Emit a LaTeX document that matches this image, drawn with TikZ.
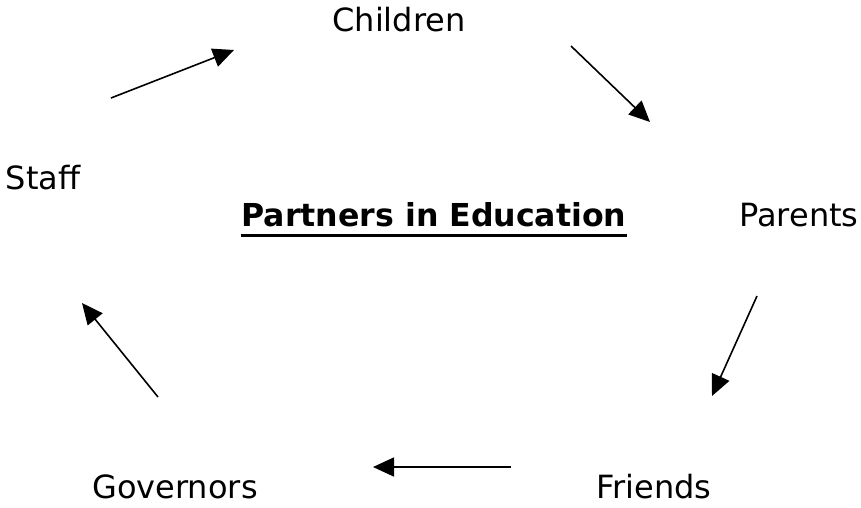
\documentclass[tikz,border=0pt]{standalone}
\usepackage{fontspec}
\setmainfont{DejaVu Sans}
\usetikzlibrary{arrows.meta}
\begin{document}
\begin{tikzpicture}[x=1pt,y=-1pt,
  lbl/.style={font=\fontsize{32}{38}\selectfont, inner sep=0pt, anchor=base},
  arr/.style={line width=1.6pt, -{Triangle[length=21pt,width=19pt]}}]
\useasboundingbox (0,0) rectangle (861,507);
\node[lbl] (children) at (399,31) {Children};
\node[lbl] (staff) at (43,189) {Staff};
\node[lbl] (parents) at (799,226) {Parents};
\node[lbl] (friends) at (654,498) {Friends};
\node[lbl] (governors) at (175,498) {Governors};
\node[lbl, font=\fontsize{31.6}{38}\selectfont\bfseries] (title) at (434,226) {Partners in Education};
\draw[line width=3pt] (title.base west) ++(0,9) coordinate (ul1) -- (ul1 -| title.base east);
\coordinate (a1s) at (111,98);  \coordinate (a1e) at (234,50);
\coordinate (a2s) at (571,46);  \coordinate (a2e) at (650,122);
\coordinate (a3s) at (757,296); \coordinate (a3e) at (712,396);
\coordinate (a4s) at (511,467); \coordinate (a4e) at (373,467);
\coordinate (a5s) at (158,397); \coordinate (a5e) at (82,303);
\draw[arr] (a1s) -- (a1e);
\draw[arr] (a2s) -- (a2e);
\draw[arr] (a3s) -- (a3e);
\draw[arr] (a4s) -- (a4e);
\draw[arr] (a5s) -- (a5e);
\end{tikzpicture}
\end{document}
